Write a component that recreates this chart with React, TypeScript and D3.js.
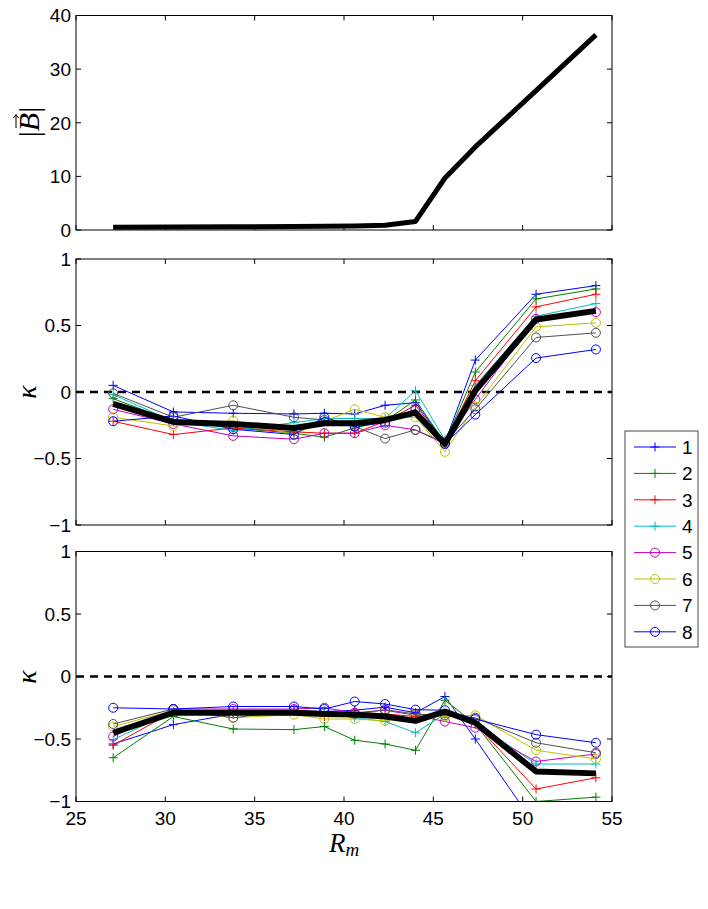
import React from "react";
import * as d3 from "d3";

// Rm sample points shared by all three panels
const rm = [27.08, 30.45, 33.8, 37.2, 38.9, 40.6, 42.3, 44.0, 45.65, 47.35, 50.75, 54.1];

// top panel: |B|
const fieldB = [0.5, 0.55, 0.6, 0.65, 0.7, 0.75, 0.9, 1.6, 9.7, 15.5, 26, 36.4];

// middle panel: kappa for runs 1..8 and the mean
const kappaMid = [
  [0.05, -0.15, -0.16, -0.165, -0.16, -0.165, -0.1, -0.08, -0.38, 0.24, 0.735, 0.8],
  [-0.05, -0.22, -0.27, -0.31, -0.34, -0.27, -0.22, -0.06, -0.38, 0.15, 0.7, 0.775],
  [-0.22, -0.32, -0.27, -0.3, -0.31, -0.31, -0.22, -0.1, -0.38, 0.085, 0.64, 0.735],
  [-0.02, -0.22, -0.29, -0.23, -0.2, -0.2, -0.2, 0.01, -0.36, 0.05, 0.57, 0.665],
  [-0.13, -0.24, -0.33, -0.355, -0.31, -0.31, -0.25, -0.285, -0.39, -0.055, 0.55, 0.6],
  [-0.19, -0.255, -0.215, -0.32, -0.22, -0.13, -0.19, -0.19, -0.45, -0.11, 0.49, 0.52],
  [-0.01, -0.19, -0.1, -0.19, -0.21, -0.26, -0.35, -0.285, -0.38, -0.13, 0.41, 0.445],
  [-0.22, -0.18, -0.28, -0.32, -0.19, -0.26, -0.23, -0.13, -0.39, -0.17, 0.255, 0.32],
];
const kappaMidMean = [-0.09, -0.225, -0.24, -0.27, -0.235, -0.235, -0.21, -0.155, -0.39, 0.01, 0.545, 0.61];

// bottom panel
const kappaLow = [
  [-0.54, -0.385, -0.3, -0.28, -0.28, -0.27, -0.245, -0.29, -0.16, -0.5, -1.2, -1.25],
  [-0.65, -0.32, -0.42, -0.425, -0.4, -0.51, -0.54, -0.59, -0.19, -0.38, -1.0, -0.965],
  [-0.55, -0.28, -0.28, -0.28, -0.32, -0.285, -0.3, -0.32, -0.3, -0.38, -0.9, -0.81],
  [-0.505, -0.28, -0.27, -0.27, -0.29, -0.33, -0.36, -0.45, -0.3, -0.37, -0.7, -0.7],
  [-0.48, -0.26, -0.26, -0.26, -0.25, -0.29, -0.27, -0.31, -0.36, -0.41, -0.68, -0.62],
  [-0.4, -0.27, -0.33, -0.305, -0.34, -0.34, -0.355, -0.3, -0.32, -0.31, -0.59, -0.66],
  [-0.38, -0.26, -0.33, -0.27, -0.28, -0.3, -0.265, -0.3, -0.31, -0.33, -0.53, -0.61],
  [-0.25, -0.26, -0.24, -0.24, -0.26, -0.2, -0.22, -0.265, -0.27, -0.34, -0.465, -0.53],
];
const kappaLowMean = [-0.45, -0.29, -0.29, -0.29, -0.3, -0.305, -0.32, -0.355, -0.28, -0.37, -0.76, -0.775];

const seriesNames = ["1", "2", "3", "4", "5", "6", "7", "8"];
const seriesColors = ["#0000ff", "#008000", "#ff0000", "#00bfbf", "#bf00bf", "#bfbf00", "#505050", "#0000ff"];
const seriesMarkers = ["+", "+", "+", "+", "o", "o", "o", "o"];

const xTicks = [25, 30, 35, 40, 45, 50, 55];
const bTicks = [0, 10, 20, 30, 40];
const kTicks = [-1, -0.5, 0, 0.5, 1];

const X0 = 76;
const X1 = 612;
const TICK = 5;
const tickFont = "'Liberation Sans', Arial, sans-serif";
const mathFont = "'Liberation Serif', 'Times New Roman', serif";

const x = d3.scaleLinear().domain([25, 55]).range([X0, X1]);
const fmt = (v: number) => String(v).replace("-", "\u2212");

function Marker({ kind, cx, cy, color }: { kind: string; cx: number; cy: number; color: string }) {
  if (kind === "o") {
    return <circle cx={cx} cy={cy} r={4.5} fill="none" stroke={color} strokeWidth={1} />;
  }
  return (
    <path
      d={`M${cx - 4.5},${cy}H${cx + 4.5}M${cx},${cy - 4.5}V${cy + 4.5}`}
      stroke={color}
      strokeWidth={1}
    />
  );
}

interface PanelProps {
  id: string;
  top: number;
  bottom: number;
  domain: [number, number];
  yTicks: number[];
  series: number[][];
  mean: number[];
  meanWidth: number;
  zeroLine: boolean;
  xLabels: boolean;
}

function Panel({ id, top, bottom, domain, yTicks, series, mean, meanWidth, zeroLine, xLabels }: PanelProps) {
  const y = d3.scaleLinear().domain(domain).range([bottom, top]);
  const line = d3
    .line<number>()
    .x((_, i) => x(rm[i]))
    .y((v) => y(v));

  return (
    <g>
      <defs>
        <clipPath id={id}>
          <rect x={X0} y={top} width={X1 - X0} height={bottom - top} />
        </clipPath>
      </defs>
      <g clipPath={`url(#${id})`}>
        {zeroLine && (
          <line
            x1={x(25)}
            x2={x(55)}
            y1={y(0)}
            y2={y(0)}
            stroke="#000"
            strokeWidth={2.5}
            strokeDasharray="8,6"
          />
        )}
        {series.map((s, k) => (
          <g key={k}>
            <path d={line(s)!} fill="none" stroke={seriesColors[k]} strokeWidth={1} />
            {s.map((v, i) => (
              <Marker key={i} kind={seriesMarkers[k]} cx={x(rm[i])} cy={y(v)} color={seriesColors[k]} />
            ))}
          </g>
        ))}
        <path d={line(mean)!} fill="none" stroke="#000" strokeWidth={meanWidth} strokeLinejoin="round" />
      </g>
      <rect x={X0} y={top} width={X1 - X0} height={bottom - top} fill="none" stroke="#000" strokeWidth={1} />
      {xTicks.map((t) => (
        <g key={t}>
          <line x1={x(t)} x2={x(t)} y1={bottom} y2={bottom - TICK} stroke="#000" />
          <line x1={x(t)} x2={x(t)} y1={top} y2={top + TICK} stroke="#000" />
          {xLabels && (
            <text x={x(t)} y={825} textAnchor="middle" fontFamily={tickFont} fontSize={19}>
              {t}
            </text>
          )}
        </g>
      ))}
      {yTicks.map((t) => (
        <g key={t}>
          <line x1={X0} x2={X0 + TICK} y1={y(t)} y2={y(t)} stroke="#000" />
          <line x1={X1} x2={X1 - TICK} y1={y(t)} y2={y(t)} stroke="#000" />
          <text x={X0 - 5} y={y(t)} dy="0.36em" textAnchor="end" fontFamily={tickFont} fontSize={19}>
            {fmt(t)}
          </text>
        </g>
      ))}
    </g>
  );
}

function TopPanel() {
  const top = 15.5;
  const bottom = 230;
  const y = d3.scaleLinear().domain([0, 40]).range([bottom, top]);
  const line = d3
    .line<number>()
    .x((_, i) => x(rm[i]))
    .y((v) => y(v));
  return (
    <g>
      <path d={line(fieldB)!} fill="none" stroke="#000" strokeWidth={5} strokeLinejoin="round" />
      <rect x={X0} y={top} width={X1 - X0} height={bottom - top} fill="none" stroke="#000" strokeWidth={1} />
      {xTicks.map((t) => (
        <g key={t}>
          <line x1={x(t)} x2={x(t)} y1={bottom} y2={bottom - TICK} stroke="#000" />
          <line x1={x(t)} x2={x(t)} y1={top} y2={top + TICK} stroke="#000" />
        </g>
      ))}
      {bTicks.map((t) => (
        <g key={t}>
          <line x1={X0} x2={X0 + TICK} y1={y(t)} y2={y(t)} stroke="#000" />
          <line x1={X1} x2={X1 - TICK} y1={y(t)} y2={y(t)} stroke="#000" />
          <text x={X0 - 5} y={y(t)} dy="0.36em" textAnchor="end" fontFamily={tickFont} fontSize={19}>
            {t}
          </text>
        </g>
      ))}
      <g transform="translate(30,122) rotate(-90)">
        <text x={0} y={9} textAnchor="middle" fontFamily={mathFont} fontSize={30}>
          |<tspan fontStyle="italic">B</tspan>|
        </text>
        <path d="M-6,-14H7M4,-16.5L7.5,-14L4,-11.5" fill="none" stroke="#000" strokeWidth={1} />
      </g>
    </g>
  );
}

function Legend() {
  const lx = 625;
  const ly = 431;
  const w = 73;
  const h = 216;
  return (
    <g>
      <rect x={lx} y={ly} width={w} height={h} fill="#fff" stroke="#444" strokeWidth={1} />
      {seriesNames.map((n, k) => {
        const cy = ly + 16 + k * 26.4;
        return (
          <g key={n}>
            <line x1={634} x2={676} y1={cy} y2={cy} stroke={seriesColors[k]} strokeWidth={1} />
            <Marker kind={seriesMarkers[k]} cx={655} cy={cy} color={seriesColors[k]} />
            <text x={682} y={cy} dy="0.36em" fontFamily={tickFont} fontSize={19}>
              {n}
            </text>
          </g>
        );
      })}
    </g>
  );
}

export default function App() {
  return (
    <svg
      width={708}
      height={909}
      style={{ position: "absolute", left: 0, top: 0, background: "#fff" }}
    >
      <rect width={708} height={909} fill="#fff" />
      <TopPanel />
      <Panel
        id="clipMid"
        top={259}
        bottom={525}
        domain={[-1, 1]}
        yTicks={kTicks}
        series={kappaMid}
        mean={kappaMidMean}
        meanWidth={6}
        zeroLine={true}
        xLabels={false}
      />
      <Panel
        id="clipLow"
        top={551.5}
        bottom={801.5}
        domain={[-1, 1]}
        yTicks={kTicks}
        series={kappaLow}
        mean={kappaLowMean}
        meanWidth={6}
        zeroLine={true}
        xLabels={true}
      />
      <text
        transform="translate(28,392) rotate(-90)"
        textAnchor="middle"
        dy="0.3em"
        fontFamily={mathFont}
        fontStyle="italic"
        fontSize={28}
      >
        κ
      </text>
      <text
        transform="translate(28,677) rotate(-90)"
        textAnchor="middle"
        dy="0.3em"
        fontFamily={mathFont}
        fontStyle="italic"
        fontSize={28}
      >
        κ
      </text>
      <text x={344} y={852} textAnchor="middle" fontFamily={mathFont} fontSize={27}>
        <tspan fontStyle="italic">R</tspan>
        <tspan fontStyle="italic" fontSize={19} dy={4}>
          m
        </tspan>
      </text>
      <Legend />
    </svg>
  );
}
